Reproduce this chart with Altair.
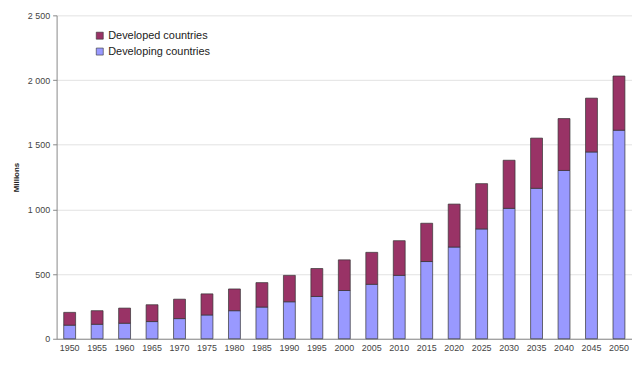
import altair as alt
import pandas as pd

years = ["1950", "1955", "1960", "1965", "1970", "1975", "1980", "1985", "1990", "1995",
         "2000", "2005", "2010", "2015", "2020", "2025", "2030", "2035", "2040", "2045", "2050"]
developing = [105, 112, 120, 133, 156, 184, 217, 245, 286, 327,
              373, 421, 490, 597, 709, 849, 1008, 1163, 1301, 1444, 1612]
developed = [99, 105, 117, 130, 150, 163, 168, 189, 204, 216,
             237, 247, 268, 296, 332, 350, 372, 388, 401, 416, 419]
series = ["Developed countries", "Developing countries"]
colors = ["#993366", "#9999FF"]

rows = []
for y, dv, dd in zip(years, developing, developed):
    rows.append({"year": y, "series": series[1], "value": dv, "ord": 0})
    rows.append({"year": y, "series": series[0], "value": dd, "ord": 1})
df = pd.DataFrame(rows)

font = "Liberation Sans"

chart = alt.Chart(df).mark_bar(size=12, stroke="#333333", strokeWidth=0.7).encode(
    x=alt.X("year:N", sort=years, title=None,
            axis=alt.Axis(labelAngle=0, labelFontSize=9, labelColor="#444444", labelFont=font,
                          domainColor="#888888", ticks=False, labelPadding=5)),
    y=alt.Y("value:Q", stack="zero", title="Millions",
            scale=alt.Scale(domain=[0, 2500], nice=False),
            axis=alt.Axis(values=[0, 500, 1000, 1500, 2000, 2500],
                          labelExpr="replace(format(datum.value, ','), ',', ' ')",
                          labelFontSize=9, labelColor="#444444", labelFont=font,
                          titleFont=font, titleFontSize=8, titleFontWeight="bold",
                          titleColor="#222222", titlePadding=7,
                          domainColor="#888888", tickColor="#888888", tickSize=4,
                          gridColor="#e2e2e2", labelPadding=3)),
    color=alt.Color("series:N", scale=alt.Scale(domain=series, range=colors),
                    legend=alt.Legend(title=None, orient="none", legendX=38, legendY=15,
                                      symbolType="square", symbolSize=50,
                                      symbolStrokeColor="#333333", symbolStrokeWidth=0.6,
                                      labelFontSize=11, labelFont=font, labelColor="#222222",
                                      rowPadding=4, labelOffset=3)),
    order=alt.Order("ord:Q", sort="ascending"),
).properties(
    width=580, height=326,
    autosize=alt.AutoSizeParams(type="none"),
    padding={"left": 49, "top": 6, "right": 0, "bottom": 20},
).configure_view(stroke=None).configure_scale(bandPaddingInner=0.55, bandPaddingOuter=0.25)

chart.save("out.html", embed_options={"renderer": "svg", "actions": False})
